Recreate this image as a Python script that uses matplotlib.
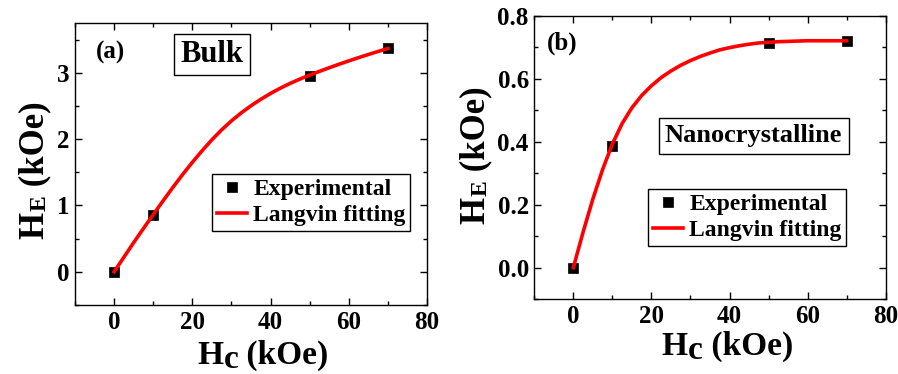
import matplotlib
matplotlib.use('Agg')
import matplotlib.pyplot as plt
from matplotlib.ticker import MultipleLocator, FormatStrFormatter
from matplotlib.text import Annotation

FONT = 'Liberation Serif'
plt.rcParams['font.family'] = FONT
plt.rcParams['font.serif'] = [FONT]
plt.rcParams['font.weight'] = 'bold'

# ---- data ----
hc_exp = [0, 10, 50, 70]
he_bulk = [0.0, 0.86, 2.95, 3.37]
he_nano = [0.0, 0.387, 0.715, 0.72]

fit_x = [0, 2.5, 5, 7.5, 10, 12.5, 15, 17.5, 20, 22.5, 25, 27.5, 30, 32.5,
         35, 37.5, 40, 42.5, 45, 47.5, 50, 52.5, 55, 57.5, 60, 62.5, 65,
         67.5, 70]
fit_y_bulk = [0.0, 0.22, 0.44, 0.653, 0.862, 1.068, 1.27, 1.465, 1.65, 1.825,
              1.99, 2.14, 2.275, 2.395, 2.503, 2.60, 2.688, 2.768, 2.84,
              2.905, 2.965, 3.021, 3.076, 3.128, 3.179, 3.228, 3.275, 3.321,
              3.366]
fit_y_nano = [0.0, 0.113, 0.218, 0.312, 0.393, 0.458, 0.508, 0.547, 0.578,
              0.604, 0.625, 0.643, 0.658, 0.671, 0.682, 0.692, 0.699, 0.705,
              0.710, 0.714, 0.716, 0.718, 0.719, 0.720, 0.721, 0.721, 0.721,
              0.721, 0.721]

x_ticks = [0, 20, 40, 60, 80]

fig = plt.figure(figsize=(8.98, 3.74), dpi=100)
axL = fig.add_axes([0.0835, 0.1845, 0.392, 0.754])
axR = fig.add_axes([0.595, 0.2005, 0.3913, 0.757])


def style(ax, ylim, ymaj, ymin, fmt):
    ax.set_xlim(-10, 80)
    ax.set_ylim(*ylim)
    ax.set_xticks(x_ticks)
    ax.xaxis.set_minor_locator(MultipleLocator(10))
    ax.yaxis.set_major_locator(MultipleLocator(ymaj))
    ax.yaxis.set_minor_locator(MultipleLocator(ymin))
    ax.yaxis.set_major_formatter(FormatStrFormatter(fmt))
    ax.tick_params(which='both', direction='in', top=True, right=True,
                   width=1, labelsize=18, pad=4)
    ax.tick_params(which='major', length=5)
    ax.tick_params(which='minor', length=3)
    for lab in ax.get_xticklabels() + ax.get_yticklabels():
        lab.set_fontfamily(FONT)
        lab.set_fontweight('bold')
    for s in ax.spines.values():
        s.set_linewidth(1.0)


def draw(ax, xe, ye, xf, yf):
    ax.plot(xe, ye, 's', color='black', ms=7.5, mew=0.5,
            label='Experimental', zorder=3)
    ax.plot(xf, yf, '-', color='#ff0000', lw=2.6,
            label='Langvin fitting', zorder=4)


style(axL, (-0.5, 3.75), 1, 0.5, '%d')
style(axR, (-0.1, 0.8), 0.2, 0.1, '%.1f')
draw(axL, hc_exp, he_bulk, fit_x, fit_y_bulk)
draw(axR, hc_exp, he_nano, fit_x, fit_y_nano)

for ax, anchor in ((axL, (0.389, 0.465)), (axR, (0.3236, 0.389))):
    leg = ax.legend(loc='upper left', bbox_to_anchor=anchor, borderaxespad=0,
                    fancybox=False, edgecolor='black', framealpha=1,
                    prop=dict(family=FONT, weight='bold', size=17),
                    handlelength=1.3, handletextpad=0.25,
                    borderpad=0.2, labelspacing=0.2, numpoints=1)
    leg.get_frame().set_linewidth(1.0)

axL.text(0.06, 0.894, '(a)', transform=axL.transAxes, fontsize=18,
         family=FONT, weight='bold', ha='left', va='center')
axL.text(0.389, 0.888, 'Bulk', transform=axL.transAxes, fontsize=22,
         family=FONT, weight='bold', ha='center', va='center',
         bbox=dict(boxstyle='square,pad=0.2', fc='white', ec='black', lw=1))
axR.text(0.035, 0.905, '(b)', transform=axR.transAxes, fontsize=18,
         family=FONT, weight='bold', ha='left', va='center')
axR.text(0.624, 0.576, 'Nanocrystalline', transform=axR.transAxes,
         fontsize=19, family=FONT, weight='bold', ha='center', va='center',
         bbox=dict(boxstyle='square,pad=0.24', fc='white', ec='black', lw=1))

TXT = dict(family=FONT, weight='bold')


def xlabel(x, y, size=24):
    t1 = fig.text(x, y, 'H', fontsize=size, ha='left', va='baseline', **TXT)
    t2 = Annotation('c', xy=(1, y), xycoords=(t1, 'figure fraction'),
                    xytext=(0.5, -3.2), textcoords='offset points',
                    fontsize=size, ha='left', va='baseline', **TXT)
    fig.add_artist(t2)
    t3 = Annotation(' (kOe)', xy=(1, y), xycoords=(t2, 'figure fraction'),
                    xytext=(0, 0), textcoords='offset points',
                    fontsize=size, ha='left', va='baseline', **TXT)
    fig.add_artist(t3)


def ylabel(x, y, size=25, subsize=17):
    t1 = fig.text(x, y, 'H', fontsize=size, rotation=90,
                  rotation_mode='anchor', ha='left', va='baseline', **TXT)
    t2 = Annotation('E', xy=(x, 1), xycoords=('figure fraction', t1),
                    xytext=(1.5, 0.5), textcoords='offset points',
                    fontsize=subsize, rotation=90, rotation_mode='anchor',
                    ha='left', va='baseline', **TXT)
    fig.add_artist(t2)
    t3 = Annotation(' (kOe)', xy=(x, 1), xycoords=('figure fraction', t2),
                    xytext=(0, 0), textcoords='offset points',
                    fontsize=size, rotation=90, rotation_mode='anchor',
                    ha='left', va='baseline', **TXT)
    fig.add_artist(t3)


xlabel(0.2194, 0.0267)
xlabel(0.7368, 0.0508)
ylabel(0.0482, 0.361)
ylabel(0.5395, 0.401)

fig.savefig('out.png', dpi=100)
